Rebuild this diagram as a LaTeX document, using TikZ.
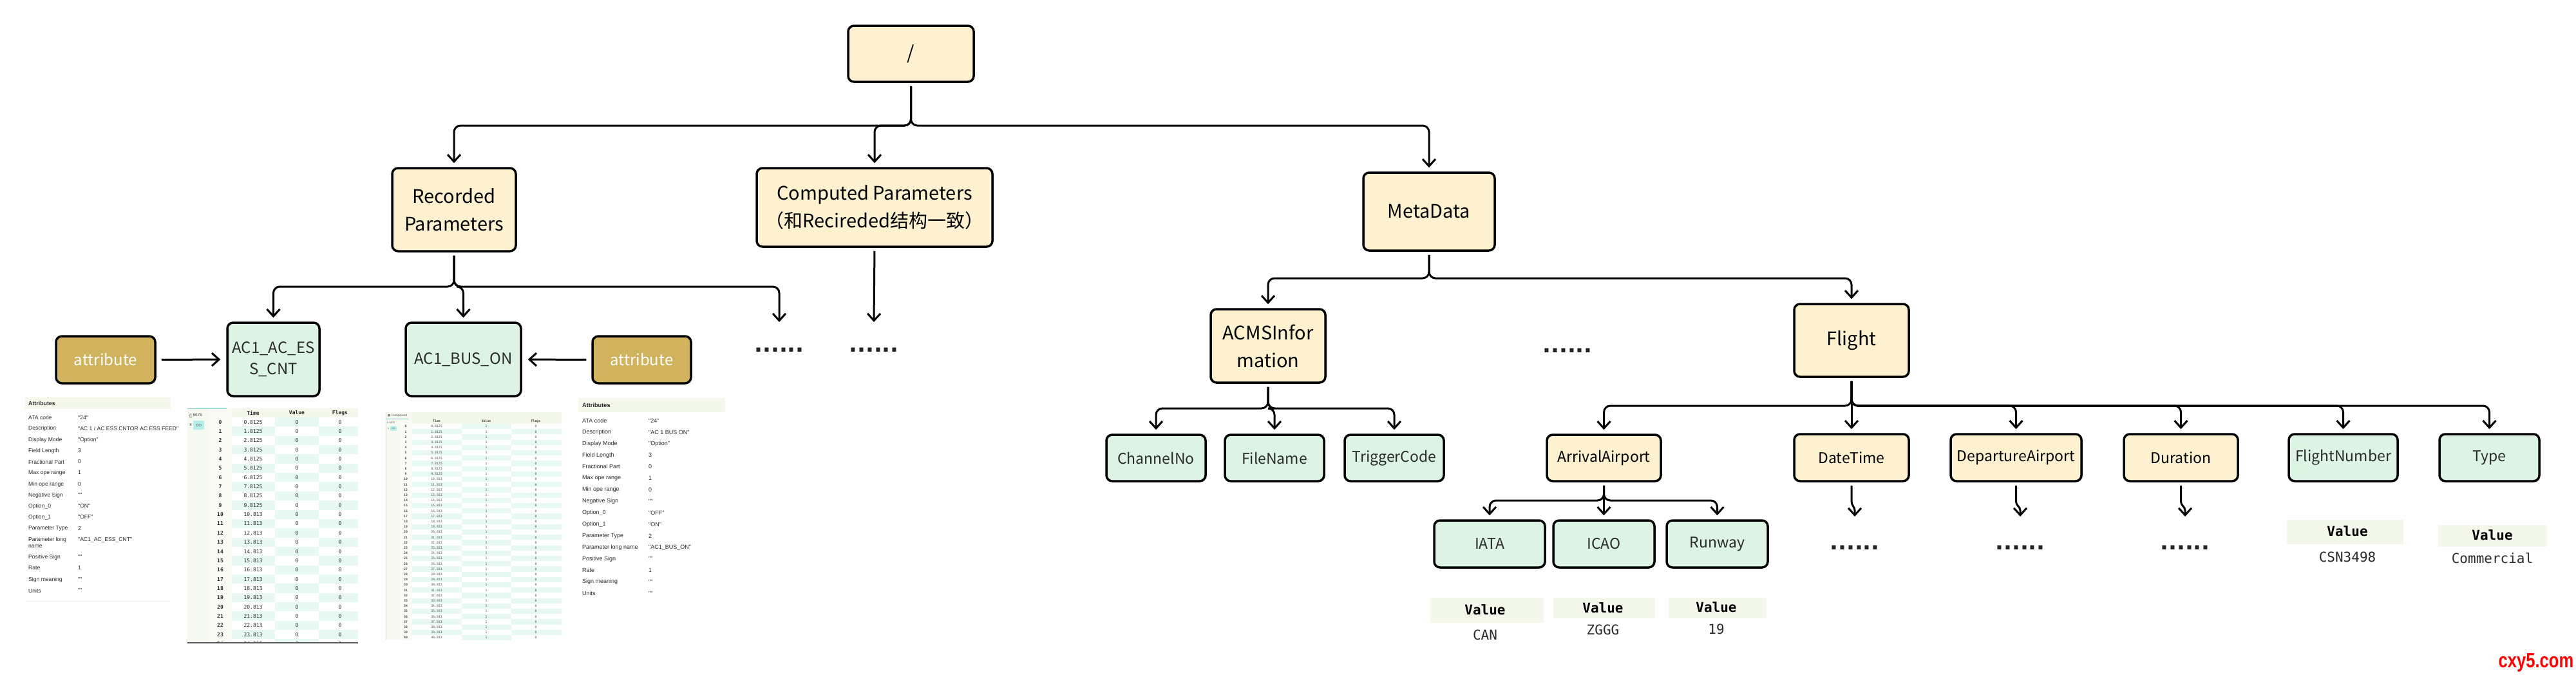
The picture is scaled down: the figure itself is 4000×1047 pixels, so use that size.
\documentclass[tikz,border=0pt]{standalone}
\usepackage{fontspec}
\setmainfont{Noto Sans CJK SC}
\newfontfamily\uifont{Liberation Sans}
\newfontfamily\codefont{DejaVu Sans Mono}
\newfontfamily\symfont{DejaVu Sans}
\newfontfamily\wmfont[FakeStretch=0.8]{Liberation Sans}
\usetikzlibrary{arrows.meta}
\definecolor{cream}{HTML}{FEF1D0}
\definecolor{mint}{HTML}{DDF4E4}
\definecolor{gold}{HTML}{D0B35C}
\definecolor{band}{HTML}{F3F8EA}
\definecolor{cellmint}{HTML}{E8F8F3}
\definecolor{strip}{HTML}{F6F9EF}
\definecolor{tealc}{HTML}{7FD3CF}
\definecolor{badge}{HTML}{B5EFEA}
\definecolor{dotc}{HTML}{222222}
\definecolor{txt}{HTML}{2B2B2B}
\newcommand\descL{"AC 1 / AC ESS CNTOR AC ESS FEED"}
\newcommand\treebranch[3]{\draw[conn] (#1.south) -- (#1.south |- 0,#3) -- (#2.north |- 0,#3) -- (#2.north);}
\begin{document}
\begin{tikzpicture}[x=1pt,y=-1pt,
  box/.style={draw=black,line width=3.5pt,rounded corners=9pt,align=center,inner sep=0pt,text=black},
  big/.style={box,fill=cream,font=\fontsize{29}{43}\selectfont},
  smallc/.style={box,fill=cream,font=\fontsize{23}{30}\selectfont,minimum height=73pt},
  smallm/.style={box,fill=mint,text=txt,font=\fontsize{23}{30}\selectfont,minimum height=73pt},
  acbox/.style={box,fill=mint,text=txt,font=\fontsize{24}{33}\selectfont,minimum height=114pt},
  attrbox/.style={box,fill=gold,text=white,font=\fontsize{24}{30}\selectfont,minimum width=154pt,minimum height=73pt},
  conn/.style={draw=black,line width=3pt,rounded corners=10pt,-{Straight Barb[length=11pt,width=20pt]},shorten <=5pt,shorten >=6pt},
  dots/.style={font=\symfont\bfseries\fontsize{34}{34}\selectfont,text=dotc,anchor=base,inner sep=0pt},
  vhead/.style={font=\codefont\bfseries\fontsize{21}{21}\selectfont,inner sep=0pt},
  vval/.style={font=\codefont\fontsize{21}{21}\selectfont,inner sep=0pt,text=txt},
  atk/.style={font=\uifont\fontsize{8.6}{10}\selectfont,anchor=west,inner sep=0pt,text=txt,align=left},
  atkr/.style={font=\uifont\fontsize{9}{10}\selectfont,anchor=west,inner sep=0pt,text=txt,align=left},
  tabt/.style={font=\codefont\fontsize{8}{8}\selectfont,inner sep=0pt,text=txt},
  tabb/.style={font=\codefont\bfseries\fontsize{8}{8}\selectfont,inner sep=0pt,text=txt},
  tinyt/.style={font=\codefont\fontsize{4.8}{5}\selectfont,inner sep=0pt,text=black!70},
  tinyb/.style={font=\codefont\bfseries\fontsize{4.8}{5}\selectfont,inner sep=0pt,text=black!75},
]
\useasboundingbox (0,0) rectangle (4000,1047);
\fill[white] (0,0) rectangle (4000,1047);

% ---------- main tree nodes ----------
\node[big,minimum width=195pt,minimum height=87pt] (root) at (1414.5,83.5) {/};
\node[big,minimum width=192pt,minimum height=129pt] (rec) at (705,325.5) {Recorded\\Parameters};
\node[big,minimum width=366pt,minimum height=122pt] (comp) at (1358,322) {Computed Parameters\\（和Recireded结构一致）};
\node[big,minimum width=204pt,minimum height=121pt] (meta) at (2219,328.5) {MetaData};
\node[acbox,minimum width=143pt] (ess) at (424.5,558) {AC1\_AC\_ES\\S\_CNT};
\node[acbox,minimum width=179pt] (busn) at (719.5,558) {AC1\_BUS\_ON};
\node[attrbox] (attrL) at (164,558.5) {attribute};
\node[attrbox,minimum width=153pt] (attrR) at (996.5,558.5) {attribute};
\node[big,minimum width=178pt,minimum height=114pt] (acms) at (1969,537) {ACMSInfor\\mation};
\node[big,minimum width=178pt,minimum height=113pt] (flight) at (2875,528.5) {Flight};
\node[smallm,minimum width=154pt,minimum height=72pt] (chan) at (1795,711) {ChannelNo};
\node[smallm,minimum width=154pt,minimum height=72pt] (file) at (1979,711) {FileName};
\node[smallm,minimum width=154pt,minimum height=72pt] (trig) at (2165,711) {TriggerCode};
\node[smallc,minimum width=177pt,minimum height=72pt] (arr) at (2490.5,711) {ArrivalAirport};
\node[smallc,minimum width=178pt] (date) at (2875,710.5) {DateTime};
\node[smallc,minimum width=203pt] (dep) at (3130.5,710.5) {DepartureAirport};
\node[smallc,minimum width=177pt] (dur) at (3386.5,710.5) {Duration};
\node[smallm,minimum width=169pt] (fnum) at (3638.5,710.5) {FlightNumber};
\node[smallm,minimum width=155pt] (typ) at (3865.5,710.5) {Type};
\node[smallm,minimum width=172pt] (iata) at (2313,844.5) {IATA};
\node[smallm,minimum width=157pt] (icao) at (2490.5,844.5) {ICAO};
\node[smallm,minimum width=157pt] (runw) at (2666.5,844.5) {Runway};

% ---------- ellipsis texts ----------
\coordinate (recmore) at (1210,500);
\coordinate (compmore) at (1357,500);
\node[dots] (d1) at (1210,546) {......};
\node[dots] (d2) at (1357,546) {......};
\node[dots] (d3) at (2434,547) {......};
\node[dots] (d4) at (2880,853) {......};
\node[dots] (d5) at (3137,853) {......};
\node[dots] (d6) at (3393,853) {......};

% ---------- connectors ----------
\treebranch{root}{rec}{195}
\treebranch{root}{comp}{195}
\treebranch{root}{meta}{195}
\draw[conn] (rec.south) -- (rec.south |- 0,445) -- (ess.north |- 0,445) -- (ess.north);
\draw[conn] (rec.south) -- (rec.south |- 0,445) -- (busn.north |- 0,445) -- (busn.north);
\draw[conn,shorten >=0pt] (rec.south) -- (rec.south |- 0,445) -- (recmore |- 0,445) -- (recmore);
\draw[conn,shorten >=0pt] (comp.south) -- (compmore);
\draw[conn,shorten <=8pt,shorten >=9pt] (attrL.east) -- (ess.west);
\draw[conn,shorten <=8pt,shorten >=9pt] (attrR.west) -- (busn.east);
\treebranch{meta}{acms}{432}
\treebranch{meta}{flight}{432}
\treebranch{acms}{chan}{634}
\treebranch{acms}{file}{634}
\treebranch{acms}{trig}{634}
\treebranch{flight}{arr}{630}
\treebranch{flight}{date}{630}
\treebranch{flight}{dep}{630}
\treebranch{flight}{dur}{630}
\treebranch{flight}{fnum}{630}
\treebranch{flight}{typ}{630}
\treebranch{arr}{iata}{777}
\treebranch{arr}{icao}{777}
\treebranch{arr}{runw}{777}
\foreach \n/\xx in {date/2880,dep/3137,dur/3393}{
  \coordinate (\n more) at (\xx,802);
  \draw[conn,rounded corners=4pt,shorten >=0pt] (\n.south) -- ([yshift=-34pt]\n.south) -- ([yshift=-40pt]\n more |- \n.south) -- (\n more);
}

% ---------- value tables ----------
\fill[band] (2221,928) rectangle (2397,967);
\fill[band] (2412,928) rectangle (2570,960);
\fill[band] (2591,928) rectangle (2743,960);
\fill[band] (3551,807) rectangle (3732,845);
\fill[band] (3786,815) rectangle (3955,849);
\node[vhead] (v1h) at (2306,947) {Value};
\node[vval] (v1v) at (2306,986) {CAN};
\node[vhead] (v2h) at (2489,944) {Value};
\node[vval] (v2v) at (2489,978) {ZGGG};
\node[vhead] (v3h) at (2665,943) {Value};
\node[vval] (v3v) at (2665,977) {19};
\node[vhead] (v4h) at (3645,825) {Value};
\node[vval] (v4v) at (3645,865) {CSN3498};
\node[vhead] (v5h) at (3870,831) {Value};
\node[vval] (v5v) at (3870,867) {Commercial};

% ---------- left attribute panel ----------
\fill[band] (39,617) rectangle (265,635);
\node[atk,font=\uifont\bfseries\fontsize{8.8}{10}\selectfont] (la0) at (44,626) {Attributes};
\draw[black!6,line width=1pt] (39,933) -- (265,933);
\foreach \yy/\k/\v [count=\i] in {648/ATA code/"24",665/Description/\descL,683/Display Mode/"Option",700/Field Length/3,717/Fractional Part/0,734/Max ope range/1,752/Min ope range/0,769/Negative Sign/"",786/Option\_0/"ON",803/Option\_1/"OFF",820/Parameter Type/2,838/Parameter long/"AC1\_AC\_ESS\_CNT",865/Positive Sign/"",882/Rate/1,900/Sign meaning/"",917/Units/""}{
  \node[atk] (lak\i) at (44,\yy) {\k};
  \node[atk] (lav\i) at (121,\yy) {\v};
}
\node[atk] (lak99) at (44,848) {name};

% ---------- right attribute panel ----------
\fill[band] (898,618) rectangle (1126,640);
\node[atkr,font=\uifont\bfseries\fontsize{9.2}{10}\selectfont] (ra0) at (904,629) {Attributes};
\foreach \k/\v [count=\i from 0] in {ATA code/"24",Description/"AC 1 BUS ON",Display Mode/"Option",Field Length/3,Fractional Part/0,Max ope range/1,Min ope range/0,Negative Sign/"",Option\_0/"OFF",Option\_1/"ON",Parameter Type/2,Parameter long name/"AC1\_BUS\_ON",Positive Sign/"",Rate/1,Sign meaning/"",Units/""}{
  \pgfmathsetmacro\yy{653+17.9*\i}
  \node[atkr] (rak\i) at (904,\yy) {\k};
  \node[atkr] (rav\i) at (1007,\yy) {\v};
}

% ---------- left data table ----------
\fill[strip] (291,634) rectangle (324,998);
\fill[strip!60!white] (324,634) rectangle (360,998);
\fill[band] (360,634) rectangle (556,648);
\draw[tealc,line width=1pt] (291,634) -- (352,634);
\begin{scope}
\clip (291,634) rectangle (556,998);
\foreach \r in {0,...,24}{
  \pgfmathsetmacro\ya{648+14.35*\r}
  \pgfmathsetmacro\yb{\ya+14.35}
  \pgfmathsetmacro\yc{\ya+7.2}
  \ifodd\r
    \fill[cellmint] (360,\ya) rectangle (427,\yb);
    \fill[cellmint] (495,\ya) rectangle (556,\yb);
  \else
    \fill[cellmint] (427,\ya) rectangle (495,\yb);
  \fi
  \node[tabb] (lti\r) at (342,\yc) {\r};
  \ifnum\r<10
    \node[tabt] (ltt\r) at (393,\yc) {\r.8125};
  \else
    \node[tabt] (ltt\r) at (393,\yc) {\r.813};
  \fi
  \node[tabt] (ltv\r) at (461,\yc) {0};
  \node[tabt] (ltf\r) at (528,\yc) {0};
}
\end{scope}
\node[tabb] (lth1) at (393,641) {Time};
\node[tabb] (lth2) at (461,641) {Value};
\node[tabb] (lth3) at (528,641) {Flags};
\node[font=\uifont\fontsize{6.5}{7}\selectfont,anchor=west,inner sep=0pt,text=black!70] (ln) at (294,645) {\underline{\textit{n}} 6676};
\node[font=\itshape\fontsize{7}{7}\selectfont,inner sep=0pt,text=black!80] (lx) at (296,660) {x};
\node[fill=badge,rounded corners=2pt,minimum width=17pt,minimum height=14pt,inner sep=0pt,font=\uifont\fontsize{6}{6}\selectfont,text=black!70] (lbadge) at (308.5,660) {DO};
\draw[black!65,line width=2pt] (291,998) -- (556,998);

% ---------- right data table ----------
\draw[black!15,line width=0.8pt] (599,640) -- (599,993);
\fill[strip] (600,640) rectangle (622,993);
\fill[strip!60!white] (622,650) rectangle (640,993);
\fill[band] (640,640) rectangle (872,658);
\fill[strip] (600,640) rectangle (640,650);
\draw[tealc,line width=0.8pt] (600,650) -- (635,650);
\begin{scope}
\clip (600,658) rectangle (872,993);
\foreach \r in {0,...,40}{
  \pgfmathsetmacro\ya{658+8.2*\r}
  \pgfmathsetmacro\yb{\ya+8.2}
  \pgfmathsetmacro\yc{\ya+4.1}
  \ifodd\r
    \fill[cellmint] (640,\ya) rectangle (717,\yb);
    \fill[cellmint] (794,\ya) rectangle (872,\yb);
  \else
    \fill[cellmint] (717,\ya) rectangle (794,\yb);
  \fi
  \node[tinyb] (rti\r) at (630,\yc) {\r};
  \ifnum\r<10
    \node[tinyt] (rtt\r) at (678,\yc) {\r.8125};
  \else
    \node[tinyt] (rtt\r) at (678,\yc) {\r.813};
  \fi
  \node[tinyt] (rtv\r) at (755,\yc) {1};
  \node[tinyt] (rtf\r) at (832,\yc) {0};
}
\end{scope}
\node[tinyb] (rth1) at (678,654) {Time};
\node[tinyb] (rth2) at (755,654) {Value};
\node[tinyb] (rth3) at (832,654) {Flags};
\node[font=\symfont\fontsize{4.5}{5}\selectfont,anchor=west,inner sep=0pt,text=black!70] (rtab) at (602,645) {▦ Compound};
\node[font=\uifont\fontsize{4}{4}\selectfont,anchor=west,inner sep=0pt,text=black!60] (rn) at (601,656) {\textit{n} 6676};
\node[font=\itshape\fontsize{4}{4}\selectfont,inner sep=0pt,text=black!70] (rx) at (603,665) {x};
\node[fill=badge,rounded corners=1pt,minimum width=10pt,minimum height=7pt,inner sep=0pt,font=\uifont\fontsize{3.5}{4}\selectfont,text=black!60] (rbadge) at (611,665) {DO};

% ---------- watermark ----------
\node[font=\wmfont\bfseries\fontsize{32}{32}\selectfont,text=red,inner sep=0pt] (wm) at (3938,1029) {cxy5.com};
\end{tikzpicture}
\end{document}
